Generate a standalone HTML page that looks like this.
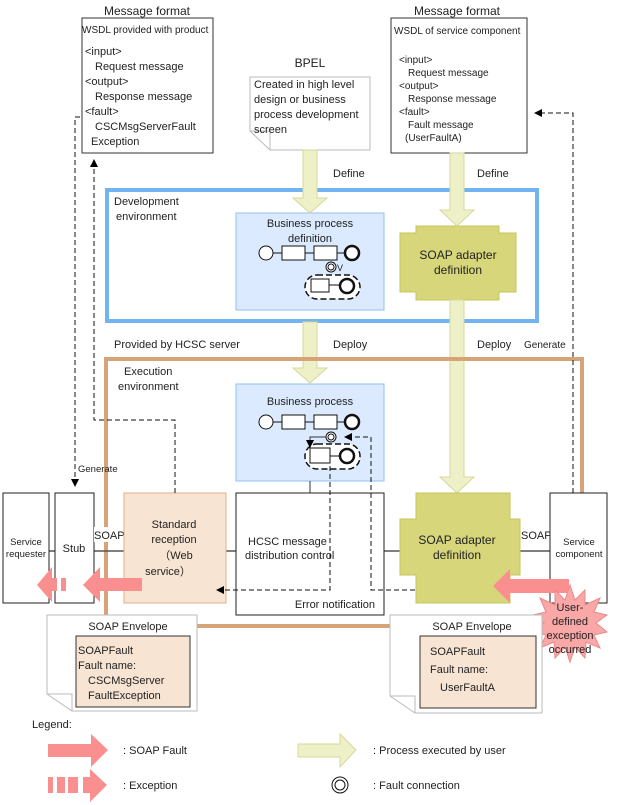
<!DOCTYPE html>
<html><head><meta charset="utf-8"><style>
body{margin:0;background:#fff}
svg{display:block;font-family:"Liberation Sans",Arial,sans-serif}
</style></head><body>
<svg width="621" height="805" viewBox="0 0 621 805" xmlns="http://www.w3.org/2000/svg">
<defs>
<marker id="ah" markerWidth="8" markerHeight="8" refX="7" refY="4" orient="auto" markerUnits="userSpaceOnUse"><path d="M0,0 L8,4 L0,8 z" fill="#000"/></marker>
</defs>
<g font-size="11" fill="#222">
<!-- top boxes -->
<text x="147" y="15" text-anchor="middle" font-size="12">Message format</text>
<rect x="82" y="18" width="131" height="135" fill="#fff" stroke="#333" stroke-width="1"/>
<text x="82" y="33" font-size="10">WSDL provided with product</text>
<text x="85" y="55">&lt;input&gt;</text>
<text x="95" y="70">Request message</text>
<text x="85" y="85">&lt;output&gt;</text>
<text x="95" y="100">Response message</text>
<text x="85" y="115">&lt;fault&gt;</text>
<text x="95" y="130">CSCMsgServerFault</text>
<text x="91" y="145">Exception</text>

<text x="457" y="15" text-anchor="middle" font-size="12">Message format</text>
<rect x="391" y="18" width="136" height="135" fill="#fff" stroke="#333"/>
<text x="394" y="34" font-size="10">WSDL of service component</text>
<g font-size="10"><text x="399" y="63">&lt;input&gt;</text>
<text x="408" y="76">Request message</text>
<text x="399" y="89">&lt;output&gt;</text>
<text x="408" y="102">Response message</text>
<text x="399" y="115">&lt;fault&gt;</text>
<text x="408" y="128">Fault message</text>
<text x="405" y="141">(UserFaultA)</text></g>

<text x="310" y="67" text-anchor="middle" font-size="12">BPEL</text>
<path d="M250,77 H370 V150 H270 L250,131 Z" fill="#fff" stroke="#bbb"/>
<path d="M250,131 L270,131 L270,150" fill="none" stroke="#bbb"/>
<text x="254" y="88">Created in high level</text>
<text x="254" y="103">design or business</text>
<text x="254" y="118">process development</text>
<text x="254" y="133">screen</text>

<text x="333" y="177">Define</text>
<text x="477" y="177">Define</text>

<!-- dev environment -->
<rect x="107" y="190" width="430" height="131" fill="none" stroke="#72b4f2" stroke-width="4"/>
<text x="114" y="205">Development</text>
<text x="116" y="220">environment</text>
<rect x="236" y="213" width="148" height="97" fill="#dbeaff" stroke="#8fc2ee"/>
<text x="310" y="227" text-anchor="middle">Business process</text>
<text x="310" y="242" text-anchor="middle">definition</text>
<g stroke="#111" fill="#fff">
<line x1="266" y1="253" x2="352" y2="253"/>
<circle cx="266" cy="253" r="7"/><rect x="282" y="246" width="23" height="14"/><rect x="314" y="246" width="23" height="14"/>
<circle cx="352" cy="253" r="7" stroke-width="2.5"/>
<rect x="305" y="275" width="55" height="24" rx="12" stroke-dasharray="6,3" stroke-width="1.5"/>
<rect x="311" y="279" width="18" height="13"/><line x1="329" y1="285" x2="340" y2="285"/>
<circle cx="347" cy="286" r="7" stroke-width="2.5"/>
<circle cx="331" cy="267" r="5"/><circle cx="331" cy="267" r="3"/>
</g>
<text x="337" y="271" font-size="9">V</text>

<path d="M416,226 H499 V233 H516 V292 H499 V300 H416 V292 H400 V233 H416 Z" fill="#d7d67a" stroke="#c6c55a"/>
<text x="458" y="259" text-anchor="middle" font-size="12">SOAP adapter</text>
<text x="458" y="274" text-anchor="middle" font-size="12">definition</text>

<!-- yellow arrows -->
<g fill="#eef0c8" stroke="#d6d89a">
<path d="M303,150 H317 V198 H327 L310,213 L293,198 H303 Z"/>
<path d="M450,153 H464 V210 H474 L457,226 L440,210 H450 Z"/>
<path d="M303,322 H317 V368 H327 L310,383 L293,368 H303 Z"/>
<path d="M450,300 H464 V477 H474 L457,493 L440,477 H450 Z"/>
</g>

<text x="114" y="348">Provided by HCSC server</text>
<text x="333" y="348">Deploy</text>
<text x="477" y="348">Deploy</text>
<text x="524" y="348" font-size="10">Generate</text>

<!-- exec environment -->
<rect x="106" y="359" width="476" height="267" fill="none" stroke="#d6a478" stroke-width="4"/>
<text x="124" y="375">Execution</text>
<text x="118" y="390">environment</text>

<rect x="236" y="384" width="148" height="97" fill="#dbeaff" stroke="#8fc2ee"/>
<text x="310" y="405" text-anchor="middle">Business process</text>
<g stroke="#111" fill="#fff">
<line x1="266" y1="422" x2="352" y2="422"/>
<circle cx="266" cy="422" r="7"/><rect x="282" y="415" width="23" height="14"/><rect x="314" y="415" width="23" height="14"/>
<circle cx="352" cy="422" r="7" stroke-width="2.5"/>
<rect x="305" y="444" width="55" height="25" rx="12" stroke-dasharray="6,3" stroke-width="1.5"/>
<rect x="310" y="448" width="20" height="15"/><line x1="330" y1="456" x2="340" y2="456"/>
<circle cx="347" cy="456" r="7" stroke-width="2.5"/>
<circle cx="331" cy="437" r="5"/><circle cx="331" cy="437" r="3"/>
</g>
<path d="M326,437 H310 V447" fill="none" stroke="#333" marker-end="url(#ah)"/>
<line x1="310" y1="481" x2="310" y2="493" stroke="#333"/>

<!-- components -->
<line x1="49" y1="551" x2="550" y2="551" stroke="#555" stroke-width="1.5"/>
<rect x="3" y="493" width="46" height="110" fill="#fff" stroke="#222"/>
<text x="26" y="545" text-anchor="middle" font-size="9.5">Service</text>
<text x="26" y="557" text-anchor="middle" font-size="9.5">requester</text>
<rect x="55" y="493" width="39" height="110" fill="#fff" stroke="#222"/>
<text x="74" y="552" text-anchor="middle">Stub</text>
<rect x="94" y="527" width="40" height="15" fill="#fff"/>
<text x="94" y="539">SOAP</text>
<rect x="124" y="493" width="102" height="110" fill="#f7e4d3" stroke="#e0b088"/>
<text x="174" y="528" text-anchor="middle">Standard</text>
<text x="174" y="543" text-anchor="middle">reception</text>
<text x="176" y="559" text-anchor="middle">（Web</text>
<text x="168" y="575" text-anchor="middle">service）</text>
<rect x="236" y="493" width="148" height="122" fill="#fff" stroke="#222"/>
<text x="248" y="545">HCSC message</text>
<text x="245" y="559">distribution control</text>
<text x="375" y="608" text-anchor="end">Error notification</text>

<path d="M416,493 H510 V519 H520 V575 H510 V603 H416 V575 H400 V519 H416 Z" fill="#d7d67a" stroke="#c6c55a"/>
<text x="457" y="544" text-anchor="middle" font-size="12">SOAP adapter</text>
<text x="457" y="559" text-anchor="middle" font-size="12">definition</text>
<text x="521" y="539">SOAP</text>
<rect x="550" y="493" width="57" height="110" fill="#fff" stroke="#222"/>
<text x="579" y="545" text-anchor="middle" font-size="9.5">Service</text>
<text x="579" y="557" text-anchor="middle" font-size="9.5">component</text>

<!-- dashed lines -->
<g fill="none" stroke="#111" stroke-dasharray="5,3">
<path d="M80,117 H75 V486" marker-end="url(#ah)"/>
<path d="M175,493 V420 H94 V160" marker-end="url(#ah)"/>
<path d="M573,493 V113 H535" marker-end="url(#ah)"/>
<path d="M415,590 H371 V437 H345" marker-end="url(#ah)"/>
<path d="M330,450 V590 H217" marker-end="url(#ah)"/>
</g>
<text x="78" y="472" font-size="9.5">Generate</text>

<!-- pink arrows -->
<g fill="#f98f8f">
<path d="M142,578 H100 V567 L83,585 L100,602 V591 H142 Z"/>
<path d="M52,567 L37,585 L52,602 Z"/>
<rect x="52" y="578" width="5" height="13"/><rect x="61" y="578" width="5" height="13"/>
<path d="M569,579 H510 V569 L493,586 L510,603 V593 H569 Z"/>
</g>
<!-- starburst -->
<path d="M570,585 L575,600 L585,590 L585,605 L600,598 L594,612 L607,615 L596,623 L607,632 L594,635 L600,648 L586,642 L585,658 L575,647 L570,662 L565,647 L555,658 L554,642 L540,648 L546,635 L533,632 L544,623 L533,615 L546,612 L540,598 L555,605 L555,590 L565,600 Z" fill="#f9a7a7" stroke="#e88"/>
<text x="570" y="611" text-anchor="middle">User-</text>
<text x="570" y="625" text-anchor="middle">defined</text>
<text x="570" y="639" text-anchor="middle">exception</text>
<text x="570" y="653" text-anchor="middle">occurred</text>

<!-- envelopes -->
<path d="M47,615 H197 V711 H72 L47,694 Z" fill="#fff" stroke="#bbb"/>
<path d="M47,694 L72,694 V711" fill="none" stroke="#bbb"/>
<text x="128" y="630" text-anchor="middle">SOAP Envelope</text>
<rect x="76" y="636" width="114" height="71" fill="#f7e4d3" stroke="#333"/>
<text x="78" y="654">SOAPFault</text>
<text x="78" y="669">Fault name:</text>
<text x="88" y="684">CSCMsgServer</text>
<text x="88" y="699">FaultException</text>

<path d="M390,615 H542 V713 H415 L390,696 Z" fill="#fff" stroke="#bbb"/>
<path d="M390,696 L415,696 V713" fill="none" stroke="#bbb"/>
<text x="472" y="630" text-anchor="middle">SOAP Envelope</text>
<rect x="420" y="636" width="116" height="72" fill="#f7e4d3" stroke="#333"/>
<text x="430" y="655">SOAPFault</text>
<text x="430" y="673">Fault name:</text>
<text x="440" y="691">UserFaultA</text>

<!-- legend -->
<text x="32" y="728">Legend:</text>
<path d="M48,744 H91 V734 L108,750 L91,767 V757 H48 Z" fill="#f98f8f"/>
<text x="123" y="754">: SOAP Fault</text>
<g fill="#f98f8f"><rect x="48" y="777" width="5" height="16"/><rect x="57" y="777" width="8" height="16"/><rect x="68" y="777" width="10" height="16"/><path d="M83,777 H90 V769 L107,785 L90,802 V793 H83 Z"/></g>
<text x="123" y="789">: Exception</text>
<path d="M298,744 H340 V734 L356,750 L340,767 V757 H298 Z" fill="#eef0c8" stroke="#d6d89a"/>
<text x="373" y="754">: Process executed by user</text>
<circle cx="340" cy="785" r="8" fill="#fff" stroke="#111"/><circle cx="340" cy="785" r="5" fill="none" stroke="#111"/>
<text x="373" y="789">: Fault connection</text>
</g>
</svg>
</body></html>
